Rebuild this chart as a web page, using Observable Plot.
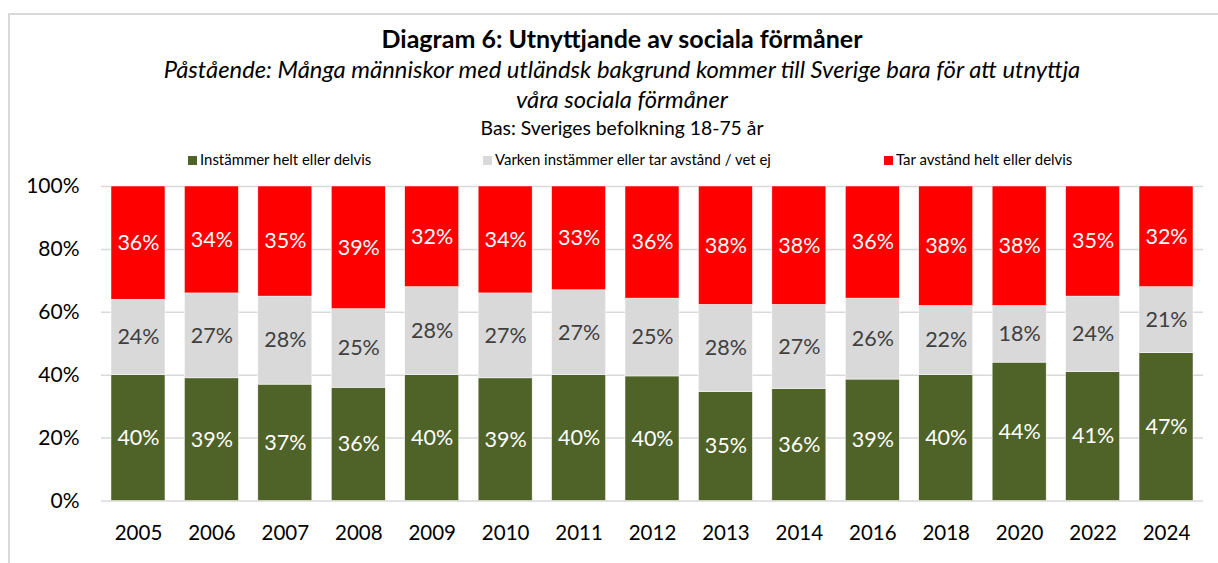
<!DOCTYPE html>
<html><head><meta charset="utf-8">
<script src="https://cdn.jsdelivr.net/npm/d3@7"></script>
<script src="https://cdn.jsdelivr.net/npm/@observablehq/plot@0.6"></script>
<style>
body{margin:0;background:#fff;font-family:Lato,sans-serif;}
#wrap{position:relative;width:1218px;height:563px;overflow:hidden;background:#fff;}
#frame{position:absolute;left:8px;top:13px;width:1300px;height:700px;border-left:2px solid #d9d9d9;border-top:2px solid #d9d9d9;}
#header{position:absolute;left:0;top:0;}
#chart{position:absolute;left:0;top:172px;}
</style></head>
<body>
<div id="wrap">
  <div id="frame"></div>
  <div id="header"></div>
  <div id="chart"></div>
</div>
<script>
const years = ["2005","2006","2007","2008","2009","2010","2011","2012","2013","2014","2016","2018","2020","2022","2024"];
const instammer = [40,39,37,36,40,39,40,40,35,36,39,40,44,41,47];
const varken    = [24,27,28,25,28,27,27,25,28,27,26,22,18,24,21];
const tarAvstand= [36,34,35,39,32,34,33,36,38,38,36,38,38,35,32];
const seriesNames = ["Instämmer helt eller delvis","Varken instämmer eller tar avstånd / vet ej","Tar avstånd helt eller delvis"];
const seriesColors = ["#4f6228","#d9d9d9","#ff0000"];
const labelColors = ["#ffffff","#404040","#ffffff"];
const yTicks = [0,0.2,0.4,0.6,0.8,1];
const titleText = "Diagram 6: Utnyttjande av sociala förmåner";
const subtitleLines = ["Påstående: Många människor med utländsk bakgrund kommer till Sverige bara för att utnyttja","våra sociala förmåner"];
const baseText = "Bas: Sveriges befolkning 18-75 år";

const seriesValues = [instammer, varken, tarAvstand];
const table = [];
years.forEach((y,i)=>{
  seriesValues.forEach((vals,s)=>{
    table.push({year:y, series:seriesNames[s], value:vals[i]});
  });
});

// ---- header (title, subtitle, legend) as a separate SVG above the chart
const hdr = d3.select("#header").append("svg")
  .attr("width",1218).attr("height",172)
  .style("font-family","Lato, sans-serif");
function fitText(sel, target){
  const fs = parseFloat(sel.attr("font-size"));
  const w = sel.node().getComputedTextLength();
  sel.attr("font-size", (fs*target/w).toFixed(2));
}
const cx = 622;
const headerLines = [
  {text:titleText, y:48, weight:"bold", style:"normal", target:481},
  {text:subtitleLines[0], y:78, weight:"normal", style:"italic", target:917},
  {text:subtitleLines[1], y:108, weight:"normal", style:"italic", target:212},
  {text:baseText, y:135, weight:"normal", style:"normal", target:283}
];
headerLines.forEach(l=>{
  const t = hdr.append("text").attr("x",cx).attr("y",l.y).attr("text-anchor","middle")
    .attr("font-size",20).attr("font-weight",l.weight).attr("font-style",l.style)
    .attr("fill","#000").text(l.text);
  fitText(t, l.target);
});
const legSquareX = [188, 483, 884];
const legTargets = [172, 276, 176];
const legTexts = seriesNames.map((n,i)=>{
  hdr.append("rect").attr("x",legSquareX[i]).attr("y",156).attr("width",9).attr("height",9).attr("fill",seriesColors[i]);
  const t = hdr.append("text").attr("x",legSquareX[i]+12).attr("y",165)
    .attr("font-size",14).attr("fill","#000").text(n);
  fitText(t, legTargets[i]);
  return t;
});
// keep one common legend size (mean of the fitted sizes)
const legMean = d3.mean(legTexts, t=>parseFloat(t.attr("font-size")));
legTexts.forEach(t=>t.attr("font-size", legMean.toFixed(2)));

// ---- chart
const textMarks = seriesNames.map((n,i)=>Plot.text(table, Plot.stackY({
  x:"year", y:"value", z:"series", offset:"normalize",
  text: d=> d.series===n ? d.value+"%" : "",
  fill: labelColors[i], fontSize: 21.5
})));

const chart = Plot.plot({
  width: 1218,
  height: 391,
  marginTop: 14,
  marginBottom: 62.5,
  marginLeft: 101,
  marginRight: 15,
  style: {fontFamily:"Lato, sans-serif", background:"transparent"},
  x: {type:"band", domain: years, paddingInner:0.2646, paddingOuter:0.136, round:false, label:null},
  y: {domain:[0,1], ticks: yTicks, tickFormat: d3.format(".0%"), label:null},
  color: {domain: seriesNames, range: seriesColors},
  marks: [
    Plot.gridY(yTicks, {stroke:"#d9d9d9", strokeOpacity:1, strokeWidth:1.5}),
    Plot.barY(table, {x:"year", y:"value", fill:"series", offset:"normalize", stroke:"#ffffff", strokeWidth:0.5}),
    ...textMarks,
    Plot.axisY({ticks: yTicks, tickFormat: d3.format(".0%"), tickSize:0, tickPadding:22, fontSize:21, fill:"#000", label:null}),
    Plot.axisX({tickSize:0, tickPadding:24, fontSize:20.5, fill:"#000", label:null})
  ]
});
document.getElementById("chart").appendChild(chart);
</script>
</body></html>
